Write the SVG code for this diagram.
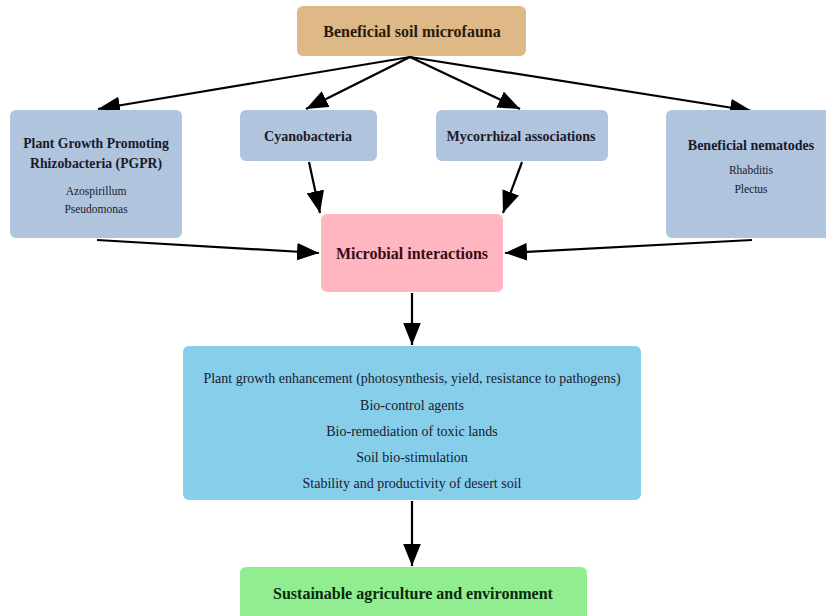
<svg xmlns="http://www.w3.org/2000/svg" width="826" height="616" viewBox="0 0 826 616">
<defs>
<marker id="ah" markerWidth="10" markerHeight="8" refX="10" refY="4" orient="auto" markerUnits="strokeWidth">
<path d="M0,0 L10,4 L0,8 Z" fill="#000"/>
</marker>
<style>
.t{font-family:"Liberation Serif","Times New Roman",serif;text-anchor:middle;fill:#1a1a2a}
.b{font-weight:bold}
.c{stroke:#000;stroke-width:2.2;fill:none;marker-end:url(#ah)}
</style>
</defs>
<rect width="826" height="616" fill="#fff"/>
<g id="connectors">
<line class="c" x1="410" y1="57" x2="98" y2="109"/>
<line class="c" x1="410" y1="57" x2="306" y2="109"/>
<line class="c" x1="410" y1="57" x2="520" y2="109"/>
<line class="c" x1="410" y1="57" x2="752" y2="111"/>
<line class="c" x1="309" y1="162" x2="320" y2="213"/>
<line class="c" x1="522" y1="162" x2="503" y2="213"/>
<line class="c" x1="97" y1="240" x2="319" y2="253"/>
<line class="c" x1="752" y1="240" x2="505" y2="253"/>
<line class="c" x1="412" y1="293" x2="412" y2="345"/>
<line class="c" x1="412" y1="501" x2="412" y2="566"/>
</g>
<g id="top">
<rect x="297" y="6" width="229" height="50" rx="6" fill="#DEB887"/>
<text class="t b" x="412" y="37" font-size="16" style="fill:#2a1a0a">Beneficial soil microfauna</text>
</g>
<g id="pgpr">
<rect x="10" y="110" width="172" height="128" rx="6" fill="#B0C4DE"/>
<text class="t b" x="96" y="148" font-size="13.7">Plant Growth Promoting</text>
<text class="t b" x="96" y="168" font-size="13.7">Rhizobacteria (PGPR)</text>
<text class="t" x="96" y="195" font-size="11.5">Azospirillum</text>
<text class="t" x="96" y="213" font-size="11.5">Pseudomonas</text>
</g>
<g id="cyano">
<rect x="240" y="110" width="137" height="51" rx="6" fill="#B0C4DE"/>
<text class="t b" x="308" y="141" font-size="14">Cyanobacteria</text>
</g>
<g id="myco">
<rect x="436" y="110" width="172" height="51" rx="6" fill="#B0C4DE"/>
<text class="t b" x="521" y="141" font-size="14">Mycorrhizal associations</text>
</g>
<g id="nematodes">
<rect x="666" y="110" width="172" height="128" rx="6" fill="#B0C4DE"/>
<text class="t b" x="751" y="150" font-size="14">Beneficial nematodes</text>
<text class="t" x="751" y="174" font-size="11.5">Rhabditis</text>
<text class="t" x="751" y="193" font-size="11.5">Plectus</text>
</g>
<g id="microbial">
<rect x="321" y="214" width="182" height="78" rx="6" fill="#FFB6C1"/>
<text class="t b" x="412" y="259" font-size="16" style="fill:#3a0a14">Microbial interactions</text>
</g>
<g id="effects">
<rect x="183" y="346" width="458" height="154" rx="6" fill="#87CEEB"/>
<text class="t" x="412" y="383" font-size="14">Plant growth enhancement (photosynthesis, yield, resistance to pathogens)</text>
<text class="t" x="412" y="410" font-size="14">Bio-control agents</text>
<text class="t" x="412" y="436" font-size="14">Bio-remediation of toxic lands</text>
<text class="t" x="412" y="462" font-size="14">Soil bio-stimulation</text>
<text class="t" x="412" y="488" font-size="14">Stability and productivity of desert soil</text>
</g>
<g id="sustainable">
<rect x="240" y="567" width="347" height="60" rx="6" fill="#90EE90"/>
<text class="t b" x="413" y="599" font-size="16" style="fill:#0a2a0a">Sustainable agriculture and environment</text>
</g>
</svg>
